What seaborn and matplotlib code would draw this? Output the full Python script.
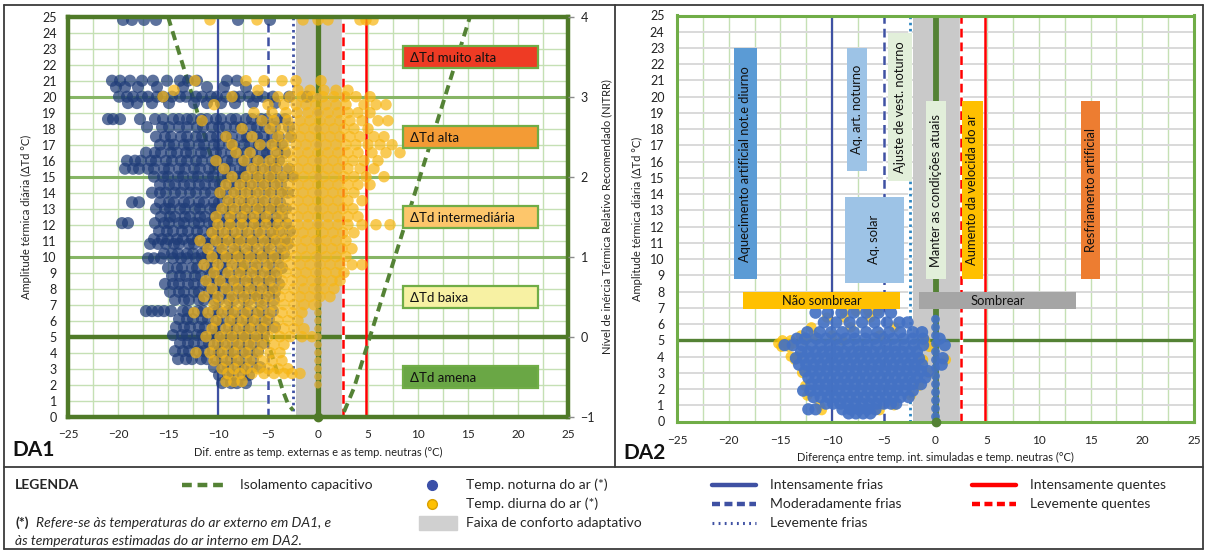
import matplotlib
matplotlib.use("Agg")
import matplotlib.pyplot as plt
import seaborn as sns
from matplotlib.patches import Rectangle
from matplotlib.lines import Line2D

# ---------------------------------------------------------
# Data
# ---------------------------------------------------------
# thresholds (x, degC)
cold_strong, cold_mod, cold_light = -10, -5, -2.5
hot_light, hot_strong = 2.5, 4.8
comfort_band = (-2.2, 2.4)

# capacitive insulation curve (DA1)
iso_left_x = [-15.0, -3.5, -3.0, -2.5]
iso_left_y = [25.0, 1.6, 0.8, 0.4]
iso_right_x = [2.6, 3.0, 3.6, 15.2]
iso_right_y = [0.3, 0.9, 1.8, 25.0]

# DA1 - night air temperature, one list of x per row of dTd
da1_night_y = [24.8, 21.0, 20.6, 20.0, 19.6, 18.6, 18.1, 17.5, 17.0, 16.5, 16.0, 15.5, 15.0,
               14.5, 14.0, 13.4, 13.0, 12.5, 12.1, 11.6, 11.1, 10.8, 10.2, 9.9, 9.3, 8.8,
               8.3, 7.8, 7.3, 6.6, 6.1, 5.6, 5.1, 4.6, 4.1, 3.6, 3.1, 2.6, 2.1]
da1_night_x = [
    [-19.5, -18.6, -17.4, -16.2, -8.0, -4.8],
    [-20.6, -19.8, -18.8, -17.6, -16.5, -15.1, -13.8, -13.0, -12.1, -9.1, -8.1],
    [-20.2, -19.3, -18.0, -16.1, -13.5, -11.1, -9.4, -7.2],
    [-19.9, -19.1, -18.5, -17.6, -17.0, -16.1, -15.5, -14.6, -13.8, -13.2, -12.2, -11.6, -10.7,
     -10.1, -9.2, -8.4, -7.8, -6.9, -6.1, -5.5, -4.5, -2.9, -1.1],
    [-19.0, -18.1, -16.6, -14.9, -12.4, -11.1, -9.7, -8.3, -6.5, -4.3],
    [-21.0, -20.5, -19.8, -17.8, -16.3, -15.5, -14.5, -13.9, -13.1, -12.6, -11.7, -11.1, -10.2,
     -9.7, -8.7, -8.2, -7.2, -6.6, -5.7, -5.1, -4.1, -3.3],
    [-17.1, -15.6, -14.9, -13.9, -13.1, -12.1, -11.5, -10.6, -9.9, -9.2, -8.3, -7.7, -6.7, -6.1,
     -5.3, -4.3, -2.9],
    [-16.2, -15.3, -14.7, -13.7, -13.1, -12.2, -11.6, -10.7, -10.1, -9.2, -8.6, -7.6, -7.1, -6.1,
     -5.5, -4.6, -3.9, -2.7],
    [-15.8, -14.9, -14.4, -13.4, -12.9, -11.9, -11.4, -10.4, -9.9, -8.9, -8.4, -7.4, -6.8, -5.9,
     -5.3, -4.3, -3.6],
    [-17.2, -16.3, -15.7, -14.7, -14.1, -13.2, -12.7, -11.7, -11.2, -10.2, -9.7, -8.7, -8.1, -7.2,
     -6.6, -5.6, -5.1, -4.0, -3.3],
    [-19.1, -18.3, -17.7, -16.7, -16.2, -15.2, -14.6, -13.7, -13.1, -12.2, -11.6, -10.6, -10.1,
     -9.1, -8.6, -7.6, -7.0, -6.1, -5.5, -4.5, -3.9],
    [-19.3, -18.5, -17.9, -17.0, -16.4, -15.4, -14.9, -13.9, -13.3, -12.4, -11.8, -10.9, -10.3,
     -9.3, -8.8, -7.8, -7.3, -6.3, -5.7, -4.8, -4.1, -2.9],
    [-16.4, -15.5, -15.0, -14.0, -13.5, -12.5, -12.0, -11.0, -10.5, -9.5, -9.0, -8.0, -7.5, -6.5,
     -6.0, -5.0, -4.4, -3.4, -2.5],
    [-15.8, -14.9, -14.3, -13.4, -12.8, -11.9, -11.3, -10.4, -9.8, -8.9, -8.3, -7.4, -6.8, -5.9,
     -5.3, -4.4, -3.7],
    [-16.6, -15.8, -15.2, -14.3, -13.7, -12.8, -12.2, -11.3, -10.7, -9.8, -9.2, -8.3, -7.7, -6.8,
     -6.2, -5.3, -4.7, -3.7, -3.0],
    [-18.6, -17.9, -15.8, -14.9, -14.4, -13.4, -12.9, -11.9, -11.4, -10.4, -9.9, -8.9, -8.4, -7.4,
     -6.9, -5.9, -5.4, -4.4, -3.8],
    [-16.2, -15.3, -14.8, -13.8, -13.3, -12.3, -11.8, -10.8, -10.3, -9.3, -8.8, -7.8, -7.3, -6.3,
     -5.8, -4.8, -4.2, -3.2],
    [-15.7, -14.8, -14.3, -13.3, -12.8, -11.8, -11.3, -10.3, -9.8, -8.8, -8.3, -7.3, -6.8, -5.8,
     -5.3, -4.3, -3.6],
    [-19.6, -19.0, -16.3, -15.4, -14.9, -13.9, -13.4, -12.4, -11.9, -10.9, -10.4, -9.4, -8.9, -7.9,
     -7.4, -6.4, -5.9, -4.9, -4.3, -3.2],
    [-15.9, -15.1, -14.5, -13.6, -13.0, -12.1, -11.5, -10.6, -10.0, -9.1, -8.5, -7.6, -7.0, -6.1,
     -5.5, -4.5, -3.9, -2.8],
    [-16.4, -15.6, -15.0, -14.1, -13.5, -12.6, -12.0, -11.1, -10.5, -9.6, -9.0, -8.1, -7.5, -6.6,
     -6.0, -5.0, -4.4, -3.3],
    [-16.8, -16.0, -15.2, -14.4, -13.9, -12.9, -12.4, -11.4, -10.9, -9.9, -9.4, -8.4, -7.9, -6.9,
     -6.4, -5.4, -4.8, -3.8, -3.0],
    [-15.4, -14.6, -14.0, -13.1, -12.5, -11.6, -11.0, -10.1, -9.5, -8.6, -8.0, -7.1, -6.5, -5.6,
     -5.0, -4.0, -3.4],
    [-17.0, -16.4, -15.7, -14.5, -13.7, -13.1, -12.2, -11.6, -10.7, -10.1, -9.2, -8.6, -7.7, -7.1,
     -6.2, -5.6, -4.7, -4.0],
    [-15.0, -14.1, -13.6, -12.6, -12.1, -11.1, -10.6, -9.6, -9.1, -8.1, -7.6, -6.6, -6.1, -5.1,
     -4.5, -3.6],
    [-14.6, -13.8, -13.2, -12.3, -11.7, -10.8, -10.2, -9.3, -8.7, -7.8, -7.2, -6.3, -5.7, -4.8, -4.2],
    [-15.3, -14.5, -13.9, -13.0, -12.4, -11.5, -10.9, -10.0, -9.4, -8.5, -7.9, -7.0, -6.4, -5.5,
     -4.9, -3.9],
    [-14.8, -13.9, -13.4, -12.4, -11.9, -10.9, -10.4, -9.4, -8.9, -7.9, -7.4, -6.4, -5.9, -4.9, -4.3],
    [-14.3, -13.4, -12.9, -11.9, -11.4, -10.4, -9.9, -8.9, -8.4, -7.4, -6.9, -5.9, -5.4, -4.4],
    [-17.2, -16.6, -16.0, -15.4, -14.7, -13.5, -13.0, -12.0, -11.5, -10.5, -10.0, -9.0, -8.5, -7.5,
     -7.0, -6.0, -5.5, -4.5],
    [-13.9, -13.1, -12.5, -11.6, -11.0, -10.1, -9.5, -8.6, -8.0, -7.1, -6.5, -5.6, -4.9],
    [-14.2, -13.4, -12.8, -11.9, -11.3, -10.4, -9.8, -8.9, -8.3, -7.4, -6.8, -5.9, -5.3, -4.3],
    [-14.5, -13.6, -13.1, -12.1, -11.6, -10.6, -10.1, -9.1, -8.6, -7.6, -7.1, -6.1, -5.4],
    [-13.8, -13.0, -12.4, -11.5, -10.9, -10.0, -9.4, -8.5, -7.9, -7.0, -6.4, -5.5],
    [-14.3, -13.5, -12.9, -12.0, -11.4, -10.5, -9.9, -9.0, -8.4, -7.5, -6.9, -6.0],
    [-14.0, -13.2, -12.6, -11.7, -11.1, -10.2, -9.6, -8.7, -8.1, -7.2, -6.5],
    [-10.4, -9.5, -9.0, -8.0, -7.5, -6.6, -5.8],
    [-9.9, -9.0, -8.5, -7.5, -6.9],
    [-9.6, -8.7, -8.1, -7.2],
]

# DA1 - day air temperature
da1_day_y = [24.8, 21.0, 20.4, 20.0, 19.5, 19.0, 18.5, 18.0, 17.5, 17.0, 16.5, 16.0, 15.5, 15.0,
             14.5, 14.0, 13.5, 13.0, 12.5, 12.0, 11.5, 11.0, 10.5, 10.0, 9.5, 9.0, 8.5, 8.0,
             7.5, 7.0, 6.5, 6.0, 5.5, 5.0, 4.5, 4.0, 3.5, 3.0, 2.7, 2.2]
da1_day_x = [
    [-10.8, -6.1, -1.5, 0.0, 1.0, 4.2, 4.8, 5.5],
    [-12.3, -7.2, -5.4, -3.6, -2.2, 0.3],
    [-14.4, -6.0, -2.0, -0.8, 0.6, 1.8, 3.0],
    [-15.5, -8.6, -4.0, -2.8, -1.6, -0.6, 0.5, 1.6, 2.7, 3.8, 5.2],
    [-10.4, -5.0, -3.4, -2.2, -1.2, -0.2, 0.8, 1.8, 2.8, 4.6, 5.8, 6.8],
    [-6.4, -4.6, -3.2, -2.1, -1.0, 0.0, 1.0, 2.0, 3.0, 4.0, 5.2],
    [-11.6, -5.6, -4.4, -3.0, -1.8, -0.8, 0.2, 1.2, 2.2, 3.2, 4.4, 6.0, 7.0],
    [-7.6, -4.8, -3.6, -2.4, -1.4, -0.4, 0.6, 1.6, 2.6, 3.6, 5.0],
    [-9.2, -6.6, -4.0, -2.8, -1.8, -0.8, 0.2, 1.2, 2.2, 3.2, 4.2, 5.6, 6.6],
    [-8.6, -5.8, -4.6, -3.4, -2.2, -1.2, -0.2, 0.8, 1.8, 2.8, 3.8, 5.0, 6.2, 7.4],
    [-8.2, -6.8, -4.2, -3.0, -2.0, -1.0, 0.0, 1.0, 2.0, 3.0, 4.0, 5.4, 6.8, 8.2],
    [-10.2, -7.4, -6.0, -4.8, -3.6, -2.5, -1.5, -0.5, 0.5, 1.5, 2.5, 3.5, 4.6, 6.0],
    [-9.4, -6.6, -5.4, -4.2, -3.0, -2.0, -1.0, 0.0, 1.0, 2.0, 3.0, 4.2, 5.6],
    [-8.6, -7.2, -6.0, -4.8, -3.6, -2.4, -1.4, -0.4, 0.6, 1.6, 2.6, 3.6, 4.8, 6.6],
    [-9.2, -7.8, -6.6, -5.4, -4.2, -3.0, -2.0, -1.0, 0.0, 1.0, 2.0, 3.0, 4.0, 5.2],
    [-9.8, -8.4, -7.2, -6.0, -4.8, -3.6, -2.5, -1.5, -0.5, 0.5, 1.5, 2.5, 3.6],
    [-9.0, -7.8, -6.6, -5.4, -4.2, -3.0, -2.0, -1.0, 0.0, 1.0, 2.0, 3.0, 4.4],
    [-9.6, -8.4, -7.2, -6.0, -4.8, -3.6, -2.5, -1.5, -0.5, 0.5, 1.5, 2.5, 3.5],
    [-10.2, -8.8, -7.6, -6.4, -5.2, -4.0, -3.0, -2.0, -1.0, 0.0, 1.0, 2.0, 3.0, 4.0],
    [-10.0, -8.8, -7.6, -6.4, -5.2, -4.0, -3.0, -2.0, -1.0, 0.0, 1.0, 2.0, 3.0, 4.4, 5.8, 7.2],
    [-10.6, -9.4, -8.2, -7.0, -5.8, -4.6, -3.6, -2.5, -1.5, -0.5, 0.5, 1.5, 2.5, 3.6],
    [-11.8, -10.2, -9.0, -7.8, -6.6, -5.4, -4.2, -3.2, -2.2, -1.2, -0.2, 0.8, 1.8, 2.8],
    [-11.0, -9.6, -8.4, -7.2, -6.0, -4.8, -3.6, -2.6, -1.6, -0.6, 0.4, 1.4, 2.4, 3.4],
    [-10.6, -9.2, -8.0, -6.8, -5.6, -4.4, -3.2, -2.2, -1.2, -0.2, 0.8, 1.8, 2.8],
    [-11.4, -10.0, -8.6, -7.4, -6.2, -5.0, -3.8, -2.8, -1.8, -0.8, 0.2, 1.2, 2.2, 3.4, 4.4],
    [-10.4, -9.0, -7.8, -6.6, -5.4, -4.2, -3.2, -2.2, -1.2, -0.2, 0.8, 1.8, 2.6],
    [-11.2, -9.8, -8.4, -7.2, -6.0, -4.8, -3.6, -2.6, -1.6, -0.6, 0.4, 1.4, 2.2],
    [-10.6, -9.2, -8.0, -6.8, -5.6, -4.4, -3.4, -2.4, -1.4, -0.4, 0.6, 1.6],
    [-11.4, -10.0, -8.6, -7.4, -6.2, -5.0, -3.8, -2.8, -1.8, -0.8, 0.2, 1.2],
    [-10.4, -9.2, -8.0, -6.8, -5.6, -4.4, -3.4, -2.4, -1.4, -0.4],
    [-12.4, -11.0, -9.6, -8.4, -7.2, -6.0, -4.8, -3.6, -2.6, -1.6],
    [-10.2, -8.8, -7.6, -6.4, -5.2, -4.0, -3.0, -2.0],
    [-10.6, -9.2, -8.0, -6.8, -5.6, -4.4, -3.4, -2.4, -1.4],
    [-11.2, -9.8, -8.6, -7.4, -6.2, -5.0, -3.8, -2.8, -1.6, -0.6],
    [-10.4, -9.2, -8.0, -6.8, -5.6, -4.4, -3.4],
    [-12.2, -10.8, -9.6, -8.4, -7.2, -6.0, -4.8, -3.8],
    [-10.4, -9.2, -8.0, -6.8, -5.6, -4.6, -3.6],
    [-9.6, -8.4, -7.2, -6.0, -5.0, -4.0, -3.0],
    [-9.0, -7.8, -6.6, -5.4, -4.4, -3.4, -2.6, -1.8],
    [-9.2, -8.4, -7.6],
]
# day points sitting on the neutral line (x = 0)
da1_day_zero_y = [2.0, 2.5, 3.0, 3.5, 4.0, 4.5, 5.0, 5.5, 6.0, 6.5, 7.0, 7.5, 8.0, 8.5, 9.0,
                  9.5, 10.0, 11.0, 12.0, 13.0, 14.0, 15.0, 16.0, 17.0, 18.0, 19.0, 20.0]

# DA2 - simulated indoor temperatures
da2_night_y = [0.5, 0.75, 1.1, 1.5, 1.9, 2.3, 2.7, 3.1, 3.5, 3.9, 4.3, 4.7, 5.1, 5.5, 6.1, 6.7]
da2_night_x = [
    [-8.4, -7.7, -7.0, -6.3],
    [-12.3, -11.6, -9.0, -8.2, -7.4, -6.6, -5.8],
    [-10.6, -9.9, -9.2, -8.5, -7.8, -7.1, -6.4, -5.7, -5.0, -4.3, -3.8],
    [-11.8, -11.1, -10.4, -9.7, -9.0, -8.3, -7.6, -6.9, -6.2, -5.5, -4.8, -4.1, -3.4, -2.6],
    [-12.8, -12.1, -11.4, -10.7, -10.0, -9.3, -8.6, -7.9, -7.2, -6.5, -5.8, -5.1, -4.4, -3.7,
     -3.0, -2.2],
    [-12.0, -11.3, -10.6, -9.9, -9.2, -8.5, -7.8, -7.1, -6.4, -5.7, -5.0, -4.3, -3.6, -2.9,
     -2.2, -1.4],
    [-12.3, -11.6, -10.9, -10.2, -9.5, -8.8, -8.1, -7.4, -6.7, -6.0, -5.3, -4.6, -3.9, -3.2,
     -2.5, -1.8, -1.0],
    [-12.6, -11.9, -11.2, -10.5, -9.8, -9.1, -8.4, -7.7, -7.0, -6.3, -5.6, -4.9, -4.2, -3.5,
     -2.8, -2.1, -1.4, -0.7],
    [-13.2, -12.5, -11.8, -11.1, -10.4, -9.7, -9.0, -8.3, -7.6, -6.9, -6.2, -5.5, -4.8, -4.1,
     -3.4, -2.7, -2.0, -1.3, 0.6],
    [-13.5, -12.8, -12.1, -11.4, -10.7, -10.0, -9.3, -8.6, -7.9, -7.2, -6.5, -5.8, -5.1, -4.4,
     -3.7, -3.0, -2.3, -1.6, 0.7],
    [-13.0, -12.3, -11.6, -10.9, -10.2, -9.5, -8.8, -8.1, -7.4, -6.7, -6.0, -5.3, -4.6, -3.9,
     -3.2, -2.5, -1.8],
    [-14.6, -13.8, -12.9, -12.0, -11.1, -10.2, -9.3, -8.4, -7.5, -6.6, -5.7, -4.8, -3.9, -3.0,
     -2.1, -1.2, 0.9],
    [-13.4, -12.6, -11.5, -10.6, -9.6, -8.7, -7.8, -6.8, -5.9, -5.0, -4.1, -3.1, -2.2, -1.2, 0.4],
    [-12.4, -11.2, -10.1, -9.0, -7.9, -6.7, -5.6, -4.5, -3.4, -2.2, -1.3],
    [-10.8, -9.6, -8.3, -7.1, -5.9, -4.7, -3.5, -2.7],
    [-11.6, -10.4, -9.1, -7.9, -6.7, -5.5, -4.3],
]
da2_night_zero_y = [0.3, 0.8, 1.3, 1.8, 2.3, 2.8, 3.3, 3.8, 4.3, 4.8, 5.3, 5.8, 6.3]

da2_day_y = [0.7, 1.0, 1.6, 2.2, 3.0, 3.8, 4.0, 4.6, 4.8, 5.0, 5.3, 5.8, 6.4, 6.8]
da2_day_x = [
    [-11.0, -5.4],
    [-11.2, -4.0],
    [-12.4, -2.4],
    [-12.6, -1.6],
    [-12.9, -0.6],
    [-13.6, -1.2, 1.0],
    [-14.0, -13.3],
    [-14.9, -14.2, -0.6],
    [-15.2, -14.5, -13.8],
    [-14.8, -14.0, -12.6, -9.0, -1.0],
    [-13.0, -11.8, -10.0, -5.4],
    [-12.0, -8.2, -4.0],
    [-10.5, -8.8, -6.3],
    [-8.8, -7.7, -6.5, -5.6],
]

# DA1 category boxes (right axis NITRR levels)
da1_box_labels = ["ΔTd muito alta", "ΔTd alta", "ΔTd intermediária", "ΔTd baixa", "ΔTd amena"]
da1_box_y = [22.5, 17.5, 12.5, 7.5, 2.5]
da1_box_colors = ["#ee3b24", "#f39b35", "#fdc66b", "#f7f1a3", "#6aa745"]

# DA2 strategy boxes: label, x0, x1, y0, y1
da2_v_labels = ["Aquecimento artificial not.e diurno", "Aq. art. noturno", "Aq. solar",
                "Ajuste de vest. noturno", "Manter as condições atuais",
                "Aumento da velocida do ar", "Resfriamento artificial"]
da2_v_x0 = [-19.5, -8.6, -8.75, -4.6, -0.9, 2.55, 14.05]
da2_v_x1 = [-17.3, -6.65, -3.05, -2.25, 1.0, 4.6, 15.95]
da2_v_y0 = [8.75, 15.45, 8.55, 14.8, 8.75, 8.75, 8.75]
da2_v_y1 = [23.0, 23.0, 13.85, 23.9, 19.75, 19.75, 19.75]
da2_v_colors = ["#5b9bd5", "#9dc3e6", "#9dc3e6", "#e2efda", "#e2efda", "#ffc000", "#ed7d31"]

da2_h_labels = ["Não sombrear", "Sombrear"]
da2_h_x0 = [-18.65, -1.55]
da2_h_x1 = [-3.4, 13.6]
da2_h_colors = ["#ffc000", "#a5a5a5"]
da2_h_y = (6.9, 7.95)

# ---------------------------------------------------------
# Style
# ---------------------------------------------------------
sns.set_theme(style="white")
plt.rcParams['font.family'] = ['Lato', 'DejaVu Sans']

NIGHT = "#1f3c78"
DAY = "#f7b614"
NIGHT2 = "#4472c4"
DAY2 = "#ffc000"
DARK_GREEN = "#4f7a28"
GREEN = "#70ad47"
LIGHT_GREEN = "#c5e0b4"
BLUE_LINE = "#3f51a3"
RED = "#ff0000"
GRAY_BAND = "#c9c9c9"

W, H = 1206, 551
fig = plt.figure(figsize=(W / 100, H / 100), dpi=100)


def fx(px):
    return px / W


def fy(py):
    return 1 - py / H


def px_axes(x0, y0, x1, y1):
    return fig.add_axes([fx(x0), fy(y1), (x1 - x0) / W, (y1 - y0) / H])


def flatten(rows_y, rows_x):
    xs, ys = [], []
    for y, row in zip(rows_y, rows_x):
        xs += row
        ys += [y] * len(row)
    return xs, ys


def vlines(ax, dotted_color=BLUE_LINE):
    ax.axvspan(*comfort_band, color=GRAY_BAND, lw=0, zorder=1)
    ax.axvline(cold_strong, color=BLUE_LINE, lw=1.6, zorder=2)
    for xv, col, ls, lw in [(cold_mod, BLUE_LINE, (0, (3.5, 2)), 1.8),
                            (cold_light, dotted_color, (0, (0.9, 1.3)), 2.0),
                            (hot_light, RED, (0, (3.5, 2)), 1.8)]:
        ax.axvline(xv, color="white", lw=lw + 0.6, zorder=2)
        ax.axvline(xv, color=col, lw=lw, ls=ls, zorder=2.1)
    ax.axvline(hot_strong, color=RED, lw=1.8, zorder=2)


# ---------------------------------------------------------
# DA1
# ---------------------------------------------------------
ax1 = px_axes(68, 16.7, 568, 416.7)
ax1.set_xlim(-25, 25)
ax1.set_ylim(0, 25)
for k in range(-10, 11):
    ax1.axvline(k * 2.5, color=LIGHT_GREEN, lw=1, zorder=0.5)
for k in range(0, 26):
    ax1.axhline(k, color=LIGHT_GREEN, lw=1, zorder=0.5)
vlines(ax1)
for yv in (10, 15, 20):
    ax1.axhline(yv, color="#86b565", lw=2.2, zorder=1.5)
ax1.axhline(5, color=DARK_GREEN, lw=3.2, zorder=1.6)
ax1.axvline(0, color=DARK_GREEN, lw=3.8, zorder=1.7)

ax1.plot(iso_left_x, iso_left_y, color="#548235", lw=2.8, ls=(0, (2.4, 1.5)), zorder=2.5)
ax1.plot(iso_right_x, iso_right_y, color="#548235", lw=2.8, ls=(0, (2.4, 1.5)), zorder=2.5)

nx, ny = flatten(da1_night_y, da1_night_x)
dx, dy = flatten(da1_day_y, da1_day_x)
sns.scatterplot(x=nx, y=ny, color=NIGHT, s=76, alpha=0.72, edgecolor="none", linewidth=0,
                ax=ax1, zorder=3, legend=False)
sns.scatterplot(x=dx, y=dy, color=DAY, s=68, alpha=0.72, edgecolor="none", linewidth=0,
                ax=ax1, zorder=3.1, legend=False)
sns.scatterplot(x=[0] * len(da1_day_zero_y), y=da1_day_zero_y, color="#d8a93a", s=30,
                alpha=0.8, edgecolor="none", linewidth=0, ax=ax1, zorder=3.2, legend=False)
ax1.plot([0], [0], "o", color=DARK_GREEN, ms=6, zorder=7, clip_on=False)

for lab, yc, col in zip(da1_box_labels, da1_box_y, da1_box_colors):
    ax1.add_patch(Rectangle((8.5, yc - 0.68), 13.5, 1.36, facecolor=col, edgecolor=GREEN,
                            lw=1.6, zorder=4))
    ax1.text(9.2, yc - 0.05, lab, ha="left", va="center", fontsize=9.5, color="#111111", zorder=5)

ax1.set_xticks(range(-25, 26, 5))
ax1.set_yticks(range(0, 26))
ax1.tick_params(axis="x", length=0, labelsize=8.5, pad=9, colors="#222222")
ax1.tick_params(axis="y", length=0, labelsize=9, pad=8, colors="#222222")
ax1.set_xlabel("Dif. entre as temp. externas e as temp. neutras (°C)", fontsize=8, color="#222222")
ax1.xaxis.set_label_coords(0.5, -0.076)
ax1.set_ylabel("Amplitude térmica diária (ΔTd °C)", fontsize=8, color="#222222")
ax1.yaxis.set_label_coords(-0.072, 0.5)
for sp in ax1.spines.values():
    sp.set_color(DARK_GREEN)
    sp.set_linewidth(3.2)
    sp.set_zorder(6)

ax1r = ax1.twinx()
ax1r.set_ylim(-1, 4)
ax1r.set_yticks(range(-1, 5))
ax1r.tick_params(axis="y", length=4, width=1, color="#8c8c8c", labelsize=9, pad=5,
                 labelcolor="#222222")
for sp in ax1r.spines.values():
    sp.set_visible(False)
ax1r.set_ylabel("Nível de inércia Térmica Relativo Recomendado (NITRR)", fontsize=8,
                color="#222222")
ax1r.yaxis.set_label_coords(1.066, 0.5)

# ---------------------------------------------------------
# DA2
# ---------------------------------------------------------
ax2 = px_axes(677, 15.5, 1194, 421.5)
ax2.set_xlim(-25, 25)
ax2.set_ylim(0, 25)
for k in range(-10, 11):
    ax2.axvline(k * 2.5, color=LIGHT_GREEN, lw=1, zorder=0.5)
for k in range(0, 26):
    ax2.axhline(k, color="#d9d9d9", lw=1.4, zorder=0.5)
vlines(ax2, dotted_color="#2e86c1")
ax2.axhline(5, color="#548235", lw=2.4, zorder=1.6)
ax2.axvline(0, color="#548235", lw=4.2, zorder=1.7)

ex, ey = flatten(da2_day_y, da2_day_x)
mx, my = flatten(da2_night_y, da2_night_x)
sns.scatterplot(x=ex, y=ey, color=DAY2, s=56, alpha=0.75, edgecolor="none", linewidth=0,
                ax=ax2, zorder=3, legend=False)
sns.scatterplot(x=mx, y=my, color=NIGHT2, s=78, alpha=0.92, edgecolor="none", linewidth=0,
                ax=ax2, zorder=3.1, legend=False)
sns.scatterplot(x=[0] * len(da2_night_zero_y), y=da2_night_zero_y, color=NIGHT2, s=40,
                alpha=0.9, edgecolor="none", linewidth=0, ax=ax2, zorder=3.2, legend=False)
ax2.plot([0], [0], "o", color="#548235", ms=6, zorder=7, clip_on=False)

for lab, x0, x1, y0, y1, col in zip(da2_v_labels, da2_v_x0, da2_v_x1, da2_v_y0, da2_v_y1,
                                     da2_v_colors):
    ax2.add_patch(Rectangle((x0, y0), x1 - x0, y1 - y0, facecolor=col, edgecolor="none",
                            zorder=4))
    ax2.text((x0 + x1) / 2, (y0 + y1) / 2, lab, rotation=90, ha="center", va="center",
             fontsize=9.3, color="#111111", zorder=5)
for lab, x0, x1, col in zip(da2_h_labels, da2_h_x0, da2_h_x1, da2_h_colors):
    ax2.add_patch(Rectangle((x0, da2_h_y[0]), x1 - x0, da2_h_y[1] - da2_h_y[0], facecolor=col,
                            edgecolor="none", zorder=4))
    ax2.text((x0 + x1) / 2, sum(da2_h_y) / 2, lab, ha="center", va="center", fontsize=9.3,
             color="#111111", zorder=5)

ax2.set_xticks(range(-25, 26, 5))
ax2.set_yticks(range(0, 26))
ax2.tick_params(axis="x", length=0, labelsize=8.5, pad=10, colors="#222222")
ax2.tick_params(axis="y", length=0, labelsize=9, pad=9, colors="#222222")
ax2.set_xlabel("Diferença entre temp. int. simuladas e temp. neutras (°C)", fontsize=8,
               color="#222222")
ax2.xaxis.set_label_coords(0.5, -0.076)
ax2.set_ylabel("Amplitude térmica diária (ΔTd °C)", fontsize=8, color="#222222")
ax2.yaxis.set_label_coords(-0.066, 0.5)
for sp in ax2.spines.values():
    sp.set_color(GREEN)
    sp.set_linewidth(2.2)
    sp.set_zorder(6)

# ---------------------------------------------------------
# Frames and panel tags
# ---------------------------------------------------------
frame = dict(color="#3a3a3a", lw=1.3, transform=fig.transFigure)
for (xa, ya), (xb, yb) in [((4, 5), (1203, 5)), ((4, 5), (4, 549)), ((1203, 5), (1203, 549)),
                           ((4, 549), (1203, 549)), ((4, 467), (1203, 467)),
                           ((615, 5), (615, 467))]:
    fig.add_artist(Line2D([fx(xa), fx(xb)], [fy(ya), fy(yb)], **frame))

fig.text(fx(12), fy(450), "DA1", fontsize=15, fontweight="bold", va="center", color="#111111")
fig.text(fx(623), fy(453), "DA2", fontsize=15, fontweight="bold", va="center", color="#111111")

# ---------------------------------------------------------
# Legend panel
# ---------------------------------------------------------
r1, r2, r3 = 485, 504, 523
LEG = 10
fig.text(fx(15), fy(r1), "LEGENDA", fontsize=LEG, fontweight="bold", va="center")


def sample(x0, x1, yp, color, ls, lw):
    fig.add_artist(Line2D([fx(x0), fx(x1)], [fy(yp), fy(yp)], color=color, ls=ls, lw=lw,
                          transform=fig.transFigure))


sample(182, 226, r1, "#548235", (0, (2.2, 1.3)), 3.2)
fig.text(fx(240), fy(r1), "Isolamento capacitivo", fontsize=LEG, va="center")

fig.add_artist(Line2D([fx(432)], [fy(r1)], marker="o", ms=7, color="#3b50a8", ls="none",
                      transform=fig.transFigure))
fig.add_artist(Line2D([fx(432)], [fy(r2)], marker="o", ms=7, color="#ffc000",
                      markeredgecolor="#d9a000", ls="none", transform=fig.transFigure))
fig.add_artist(Rectangle((fx(419), fy(r3 + 7)), 38 / W, 14 / H, color="#d0d0d0",
                         transform=fig.transFigure))
fig.text(fx(466), fy(r1), "Temp. noturna do ar (*)", fontsize=LEG, va="center")
fig.text(fx(466), fy(r2), "Temp. diurna do ar (*)", fontsize=LEG, va="center")
fig.text(fx(466), fy(r3), "Faixa de conforto adaptativo", fontsize=LEG, va="center")

sample(712, 756, r1, BLUE_LINE, "-", 3.2)
sample(712, 756, r2, BLUE_LINE, (0, (1.8, 1.0)), 3.2)
sample(712, 756, r3, BLUE_LINE, (0, (0.6, 1.4)), 2.2)
fig.text(fx(770), fy(r1), "Intensamente frias", fontsize=LEG, va="center")
fig.text(fx(770), fy(r2), "Moderadamente frias", fontsize=LEG, va="center")
fig.text(fx(770), fy(r3), "Levemente frias", fontsize=LEG, va="center")

sample(972, 1016, r1, RED, "-", 3.2)
sample(972, 1016, r2, RED, (0, (1.8, 1.0)), 3.2)
fig.text(fx(1030), fy(r1), "Intensamente quentes", fontsize=LEG, va="center")
fig.text(fx(1030), fy(r2), "Levemente quentes", fontsize=LEG, va="center")

fig.text(fx(15), fy(r3), "(*)", fontsize=LEG, fontweight="bold", va="center")
fig.text(fx(36), fy(r3), "Refere-se às temperaturas do ar externo em DA1, e", fontsize=LEG,
         style="italic", va="center")
fig.text(fx(15), fy(r3 + 18), "às temperaturas estimadas do ar interno em DA2.", fontsize=LEG,
         style="italic", va="center")

fig.savefig("out.png", dpi=100)
